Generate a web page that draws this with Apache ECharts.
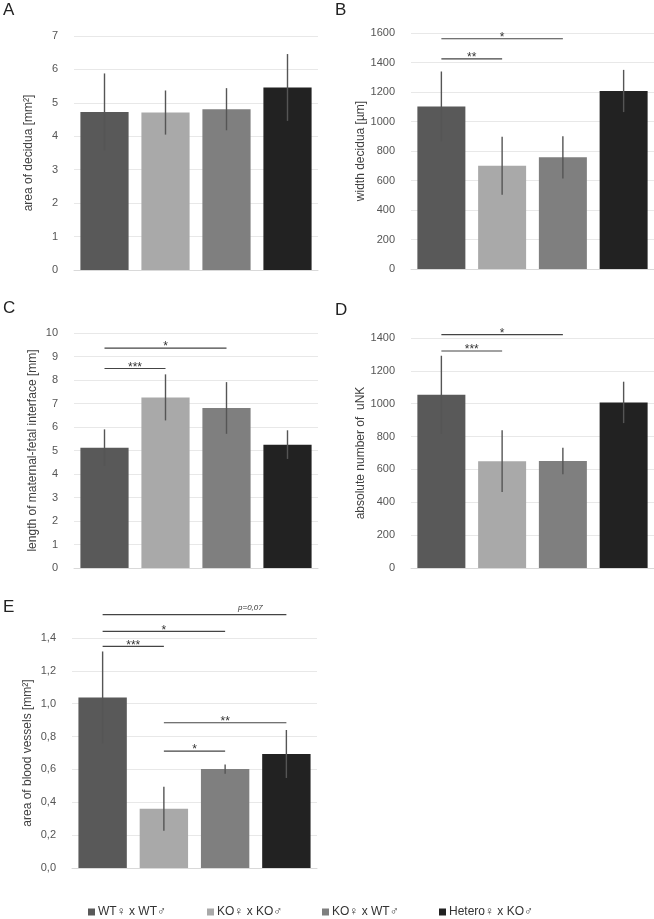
<!DOCTYPE html>
<html><head><meta charset="utf-8">
<script src="https://cdn.jsdelivr.net/npm/echarts@6/dist/echarts.min.js"></script>
<style>html,body{margin:0;padding:0;background:#fff}#c{width:654px;height:919px}</style>
</head><body><div id="c"></div>
<script>
const groups = ['WT♀ x WT♂', 'KO♀ x KO♂', 'KO♀ x WT♂', 'Hetero♀ x KO♂'];
const colors = ['#595959', '#a9a9a9', '#7f7f7f', '#222222'];

const valA = [4.73, 4.71, 4.81, 5.46];
const errA = [1.15, 0.66, 0.63, 1.00];
const valB = [1102, 700, 757, 1207];
const errB = [237, 197, 143, 143];
const valC = [5.12, 7.26, 6.81, 5.25];
const errC = [0.78, 0.98, 1.10, 0.61];
const valD = [1054, 650, 651, 1008];
const errD = [238, 188, 81, 126];
const valE = [1.038, 0.361, 0.602, 0.694];
const errE = [0.28, 0.134, 0.028, 0.146];

const sigA = [];
const sigB = [[0, 1, 1424, '**'], [0, 2, 1561, '*']];
const sigC = [[0, 1, 8.49, '***'], [0, 2, 9.36, '*']];
const sigD = [[0, 1, 1321, '***'], [0, 2, 1421, '*']];
const sigE = [[0, 3, 1.542, 'p=0,07'], [0, 2, 1.44, '*'], [0, 1, 1.349, '***'], [1, 3, 0.884, '**'], [1, 2, 0.712, '*']];

const panels = [
  {letter: 'A', vals: valA, errs: errA, sigs: sigA, name: 'area of decidua [mm²]', min: 0, max: 7, interval: 1, grid: {left: 74, top: 36, width: 244, height: 234}, gap: 39, lt: [3, 2]},
  {letter: 'B', vals: valB, errs: errB, sigs: sigB, name: 'width decidua [µm]', min: 0, max: 1600, interval: 200, grid: {left: 411, top: 33, width: 243, height: 236}, gap: 43, lt: [335, 2]},
  {letter: 'C', vals: valC, errs: errC, sigs: sigC, name: 'length of maternal-fetal interface [mm]', min: 0, max: 10, interval: 1, grid: {left: 74, top: 333, width: 244, height: 235}, gap: 35, lt: [3, 300]},
  {letter: 'D', vals: valD, errs: errD, sigs: sigD, name: 'absolute number of  uNK', min: 0, max: 1400, interval: 200, grid: {left: 411, top: 338, width: 243, height: 230}, gap: 43, lt: [335, 302]},
  {letter: 'E', vals: valE, errs: errE, sigs: sigE, name: 'area of blood vessels [mm²]', min: 0, max: 1.4, interval: 0.2, grid: {left: 72, top: 638, width: 245, height: 230}, gap: 38, lt: [3, 599], fmt: v => v.toFixed(1).replace('.', ',')}
];

const legendLefts = [88, 207, 322, 439];

const option = {
  animation: false,
  textStyle: {fontFamily: 'Liberation Sans, Arial, DejaVu Sans, sans-serif'},
  title: [], grid: [], xAxis: [], yAxis: [], series: [],
  legend: groups.map((g, i) => ({
    data: [g], top: 906, left: legendLefts[i], padding: 0, itemWidth: 7, itemHeight: 7,
    icon: 'rect', textStyle: {fontSize: 12, color: '#333', padding: [0, 0, 0, -2], fontFamily: 'Liberation Sans, DejaVu Sans, sans-serif'}
  }))
};

panels.forEach((p, gi) => {
  option.title.push({text: p.letter, left: p.lt[0], top: p.lt[1], padding: 0, textStyle: {fontSize: 17, fontWeight: 'normal', color: '#222'}});
  option.grid.push(p.grid);
  option.xAxis.push({type: 'category', gridIndex: gi, data: groups, axisLabel: {show: false}, axisTick: {show: false},
    axisLine: {lineStyle: {color: '#d9d9d9'}}});
  option.yAxis.push({type: 'value', gridIndex: gi, min: p.min, max: p.max, interval: p.interval,
    name: p.name, nameLocation: 'middle', nameGap: p.gap, nameTextStyle: {fontSize: 12, color: '#404040'},
    axisLine: {show: false}, axisTick: {show: false},
    axisLabel: {fontSize: 11, color: '#555', margin: 16, formatter: p.fmt || (v => String(v))},
    splitLine: {lineStyle: {color: '#e8e8e8'}}});
  groups.forEach((g, i) => {
    option.series.push({type: 'bar', name: g, xAxisIndex: gi, yAxisIndex: gi, stack: 's' + gi, barWidth: '79%',
      itemStyle: {color: colors[i]},
      data: p.vals.map((v, j) => j === i ? v : '-')});
  });
  option.series.push({type: 'custom', xAxisIndex: gi, yAxisIndex: gi, z: 5,
    data: p.vals.map((v, j) => [j, v, p.errs[j]]),
    renderItem: (params, api) => {
      const x = api.value(0), v = api.value(1), e = api.value(2);
      const a = api.coord([x, v - e]), b = api.coord([x, v + e]);
      return {type: 'line', shape: {x1: a[0], y1: a[1], x2: b[0], y2: b[1]}, style: {stroke: '#555', lineWidth: 1.4}};
    }});
  const sigs = p.sigs;
  option.series.push({type: 'custom', xAxisIndex: gi, yAxisIndex: gi, z: 6, clip: false,
    data: sigs.map(s => [s[0], s[2], s[1]]),
    renderItem: (params, api) => {
      const s = sigs[params.dataIndex];
      const a = api.coord([s[0], s[2]]), b = api.coord([s[1], s[2]]);
      const isP = s[3].charAt(0) === 'p';
      return {type: 'group', children: [
        {type: 'line', shape: {x1: a[0], y1: a[1], x2: b[0], y2: b[1]}, style: {stroke: '#444', lineWidth: 1.2}},
        {type: 'text', x: isP ? b[0] - 36 : (a[0] + b[0]) / 2, y: a[1] - (isP ? 3 : 1),
          style: {text: s[3], textAlign: 'center', textVerticalAlign: isP ? 'bottom' : 'middle',
            fontSize: isP ? 8 : 12, fontStyle: isP ? 'italic' : 'normal', fill: '#333',
            fontFamily: 'Liberation Sans, Arial, sans-serif'}}
      ]};
    }});
});

const chart = echarts.init(document.getElementById('c'));
chart.setOption(option);
</script></body></html>
